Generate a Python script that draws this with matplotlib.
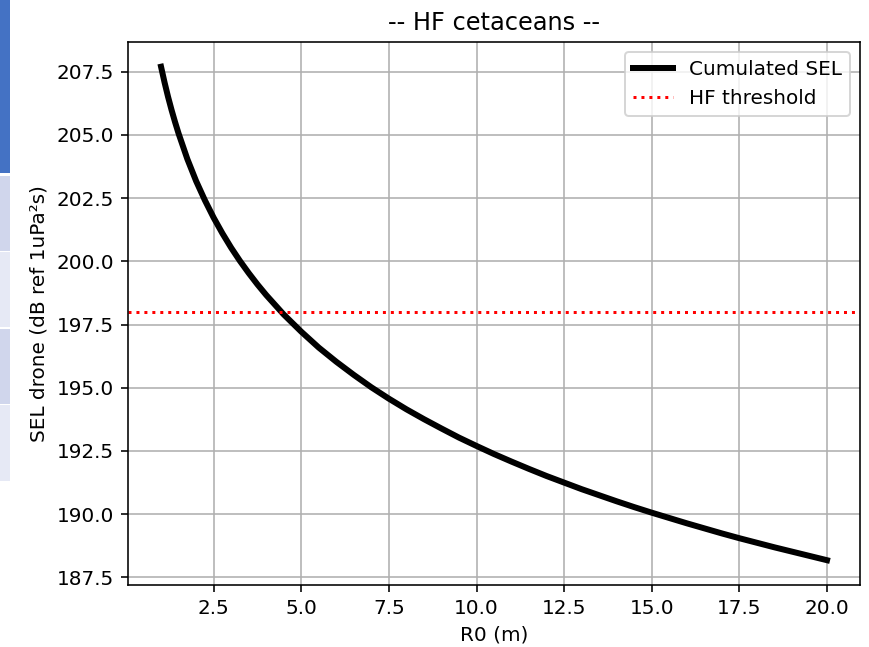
import matplotlib
matplotlib.use('Agg')
import matplotlib.pyplot as plt
from matplotlib.patches import Rectangle

# Values
r0 = [1.0, 1.1, 1.2, 1.3, 1.4, 1.5, 1.75, 2.0, 2.25, 2.5, 2.75, 3.0, 3.25,
      3.5, 3.75, 4.0, 4.5, 5.0, 5.5, 6.0, 6.5, 7.0, 7.5, 8.0, 8.5, 9.0, 9.5,
      10.0, 10.5, 11.0, 11.5, 12.0, 12.5, 13.0, 13.5, 14.0, 14.5, 15.0, 15.5,
      16.0, 16.5, 17.0, 17.5, 18.0, 18.5, 19.0, 19.5, 20.0]
sel = [207.70, 207.08, 206.51, 205.99, 205.51, 205.06, 204.05, 203.18,
       202.42, 201.73, 201.11, 200.54, 200.02, 199.54, 199.09, 198.67,
       197.90, 197.22, 196.59, 196.03, 195.51, 195.02, 194.57, 194.15,
       193.76, 193.39, 193.03, 192.70, 192.38, 192.08, 191.79, 191.51,
       191.25, 190.99, 190.75, 190.51, 190.28, 190.06, 189.85, 189.64,
       189.44, 189.24, 189.05, 188.87, 188.69, 188.52, 188.35, 188.18]
threshold = 198.0

DPI = 144
fig = plt.figure(figsize=(869 / DPI, 647 / DPI), dpi=DPI)

# strip of the window behind the screenshot, left edge
strip = [(0.0, 172, '#4472c4'), (177, 250, '#d0d6ec'), (253, 326, '#e6e9f5'),
         (330, 403, '#d0d6ec'), (406, 480, '#e6e9f5')]
for y0, y1, col in strip:
    fig.patches.append(Rectangle((0, 1 - y1 / 647), 9 / 869, (y1 - y0) / 647,
                                 transform=fig.transFigure, color=col, zorder=0))

ax = fig.add_axes([0.147, 0.096, 0.843, 0.839])
ax.plot(r0, sel, color='black', linewidth=3.0, label='Cumulated SEL')
ax.axhline(threshold, color='red', linestyle=':', linewidth=1.5, label='HF threshold')
ax.set_title('-- HF cetaceans --')
ax.set_xlabel('R0 (m)')
ax.set_ylabel('SEL drone (dB ref 1uPa²s)')
ax.grid(True)
ax.legend(loc='upper right')

fig.savefig('out.png', dpi=DPI)
